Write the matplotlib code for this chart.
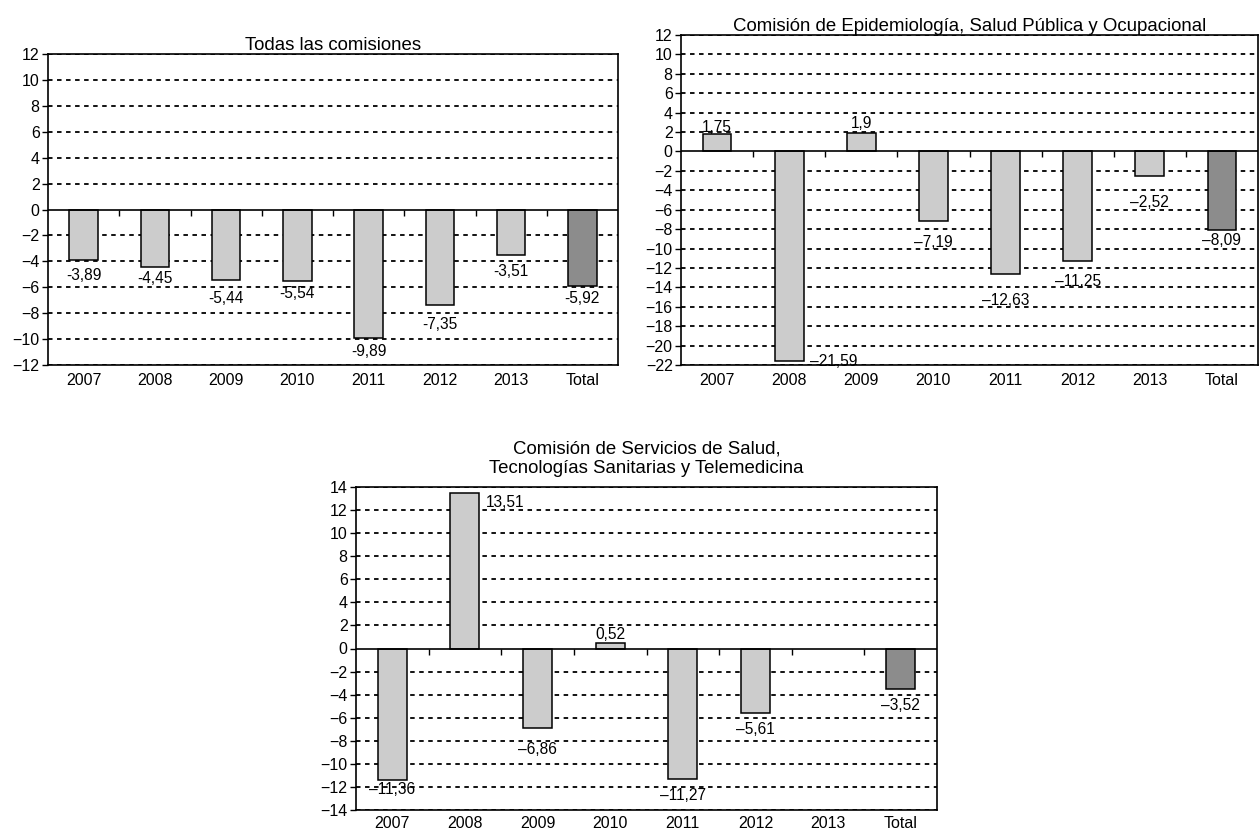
import numpy as np
import matplotlib
matplotlib.use("Agg")
import matplotlib.pyplot as plt

plt.rcParams['font.family'] = ['Liberation Sans', 'DejaVu Sans']

categories = ["2007", "2008", "2009", "2010", "2011", "2012", "2013", "Total"]

title_all = "Todas las comisiones"
values_all = [-3.89, -4.45, -5.44, -5.54, -9.89, -7.35, -3.51, -5.92]

title_epi = "Comisión de Epidemiología, Salud Pública y Ocupacional"
values_epi = [1.75, -21.59, 1.9, -7.19, -12.63, -11.25, -2.52, -8.09]

title_serv = "Comisión de Servicios de Salud,\nTecnologías Sanitarias y Telemedicina"
values_serv = [-11.36, 13.51, -6.86, 0.52, -11.27, -5.61, np.nan, -3.52]

# label placement styles (vertical distance in px of label centre from bar end)
gap_all = [16, 11, 19, 12, 14, 20, 17, 12]
gap_epi = [7, 0, 10, 21, 26, 21, 27, 11]
gap_serv = [10, 10, 22, 8, 17, 16, 0, 16]

LIGHT = "#cccccc"
DARK = "#8c8c8c"
W, H = 1260, 832
fig = plt.figure(figsize=(W / 100, H / 100), dpi=100)
PX = 72 / 100  # points per pixel


def fmt(v, minus):
    s = f"{v:g}".replace(".", ",")
    return s.replace("-", minus)


def rect(l, r, t, b):
    return [l / W, 1 - b / H, (r - l) / W, (b - t) / H]


def panel(box, title, values, gaps, ylim, minus, tpad, xpad, side=()):
    ax = fig.add_axes(box)
    x = np.arange(len(categories))
    colors = [LIGHT] * (len(categories) - 1) + [DARK]
    vals = np.array(values, dtype=float)
    width = 0.4
    ax.bar(x, vals, width=width, color=colors, edgecolor="black",
           linewidth=1.1, zorder=3)
    ax.set_xlim(-0.5, len(categories) - 0.5)
    ax.set_ylim(*ylim)
    yt = np.arange(ylim[0], ylim[1] + 0.1, 2)
    ax.set_yticks(yt)
    for t in yt:
        if t != 0:
            ax.axhline(t, color="black", linestyle=(0, (2.5, 2.5)), linewidth=1.3, zorder=1)
    ax.axhline(0, color="black", linewidth=1.2, zorder=4)
    for s in ax.spines.values():
        s.set_linewidth(1.2)
    ax.tick_params(axis='y', direction='out', length=4, pad=2, labelsize=11.5, width=1)
    # boundary tick marks on the zero line
    ax.set_xticks(np.arange(0.5, len(categories) - 0.5, 1.0))
    ax.tick_params(axis='x', bottom=False, labelbottom=False)
    for xb in np.arange(0.5, len(categories) - 0.5, 1.0):
        ax.plot([xb], [0], marker=3, color="black", markersize=4, markeredgewidth=1,
                zorder=4, clip_on=False)
    sec = ax.secondary_xaxis(0)
    sec.set_xticks(x)
    sec.set_xticklabels(categories)
    sec.tick_params(length=0, pad=xpad, labelsize=11.5)
    sec.spines['bottom'].set_visible(False)
    ax.set_title(title, fontsize=13.4, pad=tpad, linespacing=1.2)
    for i, v in enumerate(vals):
        if np.isnan(v):
            continue
        txt = fmt(v, minus)
        if i in side:
            dy = -gaps[i] if v > 0 else gaps[i]
            ax.annotate(txt, (x[i] + width / 2, v), xytext=(6 * PX, dy * PX),
                        textcoords="offset points", ha="left", va="center",
                        fontsize=11.2, zorder=5)
        else:
            dy = gaps[i] if v >= 0 else -gaps[i]
            ax.annotate(txt, (x[i], v), xytext=(0, dy * PX), textcoords="offset points",
                        ha="center", va="center", fontsize=11.2, zorder=5)
    return ax


panel(rect(48, 618, 54, 365), title_all, values_all, gap_all, (-12, 12), "-", 3, 6)
panel(rect(681, 1258, 35, 365), title_epi, values_epi, gap_epi, (-22, 12), "\u2013", 3, 6,
      side=(1,))
panel(rect(356, 937, 487, 810), title_serv, values_serv, gap_serv, (-14, 14), "\u2013", 10, 4,
      side=(1,))

fig.savefig("out.png", dpi=100)
